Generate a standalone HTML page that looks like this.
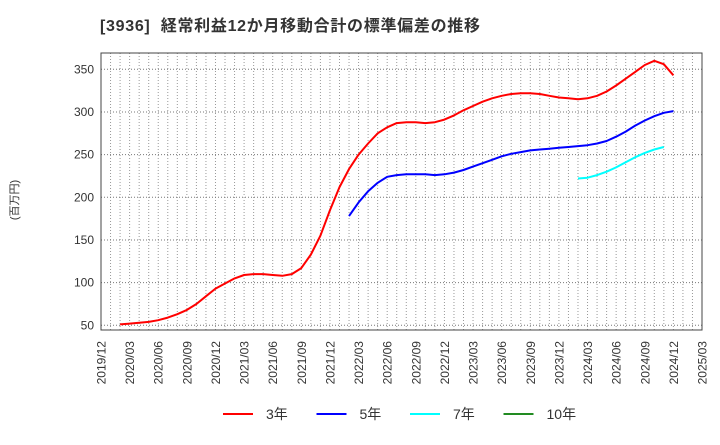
<!DOCTYPE html>
<html><head><meta charset="utf-8"><style>
body{margin:0;background:#fff;}
svg text{font-family:"Liberation Sans","Noto Sans CJK JP",sans-serif;fill:#333;}
</style></head><body>
<svg id="chart" width="720" height="440" xmlns="http://www.w3.org/2000/svg">
<text x="100" y="31" font-size="16" font-weight="bold" textLength="380" lengthAdjust="spacing" style="white-space:pre">[3936]  経常利益12か月移動合計の標準偏差の推移</text>
<text transform="translate(18,200) rotate(-90)" font-size="11" text-anchor="middle">(百万円)</text>
<g id="grid"></g>
<g id="yticks"></g>
<g id="xticks"></g>
<g id="series"></g>
<rect x="101" y="53" width="601" height="277" fill="none" stroke="#444" stroke-width="1"/>
<g id="legend"></g>
</svg>
<script>
const yTicks=[50,100,150,200,250,300,350];
const red=[51,52,53,54,56,59,63,68,75,84,93,99,105,109,110,110,109,108,110,117,133,155,185,212,233,250,263,275,282,287,288,288,287,288,291,296,302,307,312,316,319,321,322,322,321,319,317,316,315,316,319,324,331,339,347,355,360,356,343];
const redStart=2;
const blue=[178,194,207,217,224,226,227,227,227,226,227,229,232,236,240,244,248,251,253,255,256,257,258,259,260,261,263,266,271,277,284,290,295,299,301];
const blueStart=26;
const cyan=[222,223,226,230,235,241,247,252,256,259];
const cyanStart=50;
const seriesNames=["3年","5年","7年","10年"];
const seriesColors=["#ff0000","#0000ff","#00ffff","#228B22"];
const NS="http://www.w3.org/2000/svg";
const X0=101,X1=702,Y0=53,Y1=330,NM=63;
const xs=i=>X0+(X1-X0)*i/NM;
const ys=v=>325.3-(v-50)*(256/300);
function mk(t,a,p){const e=document.createElementNS(NS,t);for(const k in a)e.setAttribute(k,a[k]);p.appendChild(e);return e;}
const grid=document.getElementById('grid');
for(let i=1;i<NM;i++){const l=mk('line',{x1:xs(i),x2:xs(i),y1:Y0,y2:Y1,stroke:'#999','stroke-dasharray':'1,2'},grid);

}
const yt=document.getElementById('yticks');
yTicks.forEach(v=>{const l=mk('line',{x1:X0,x2:X1,y1:ys(v),y2:ys(v),stroke:'#777','stroke-dasharray':'1,2'},grid);


const t=mk('text',{x:94,y:ys(v)+4,'font-size':12,'text-anchor':'end'},yt);t.textContent=v;

});
const xt=document.getElementById('xticks');
for(let i=0;i<=NM;i+=3){const m=(12+i-1)%12+1,y=2019+Math.floor((12+i-1)/12);
const lbl=y+'/'+String(m).padStart(2,'0');
const t=mk('text',{transform:`translate(${xs(i)+4.5},341) rotate(-90)`,'font-size':12,'text-anchor':'end'},xt);t.textContent=lbl;

}
const sg=document.getElementById('series');
[[red,redStart],[blue,blueStart],[cyan,cyanStart]].forEach((s,k)=>{
const pts=s[0].map((v,i)=>xs(s[1]+i).toFixed(1)+','+ys(v).toFixed(1)).join(' ');
const p=mk('polyline',{points:pts,fill:'none',stroke:seriesColors[k],'stroke-width':2,'stroke-linejoin':'round'},sg);

});
const lg=document.getElementById('legend');
seriesNames.forEach((n,k)=>{const x=223+k*93.5;
const l=mk('line',{x1:x,x2:x+30,y1:414,y2:414,stroke:seriesColors[k],'stroke-width':2},lg);


const t=mk('text',{x:x+43,y:419,'font-size':14},lg);t.textContent=n;

});
</script>
</body></html>
